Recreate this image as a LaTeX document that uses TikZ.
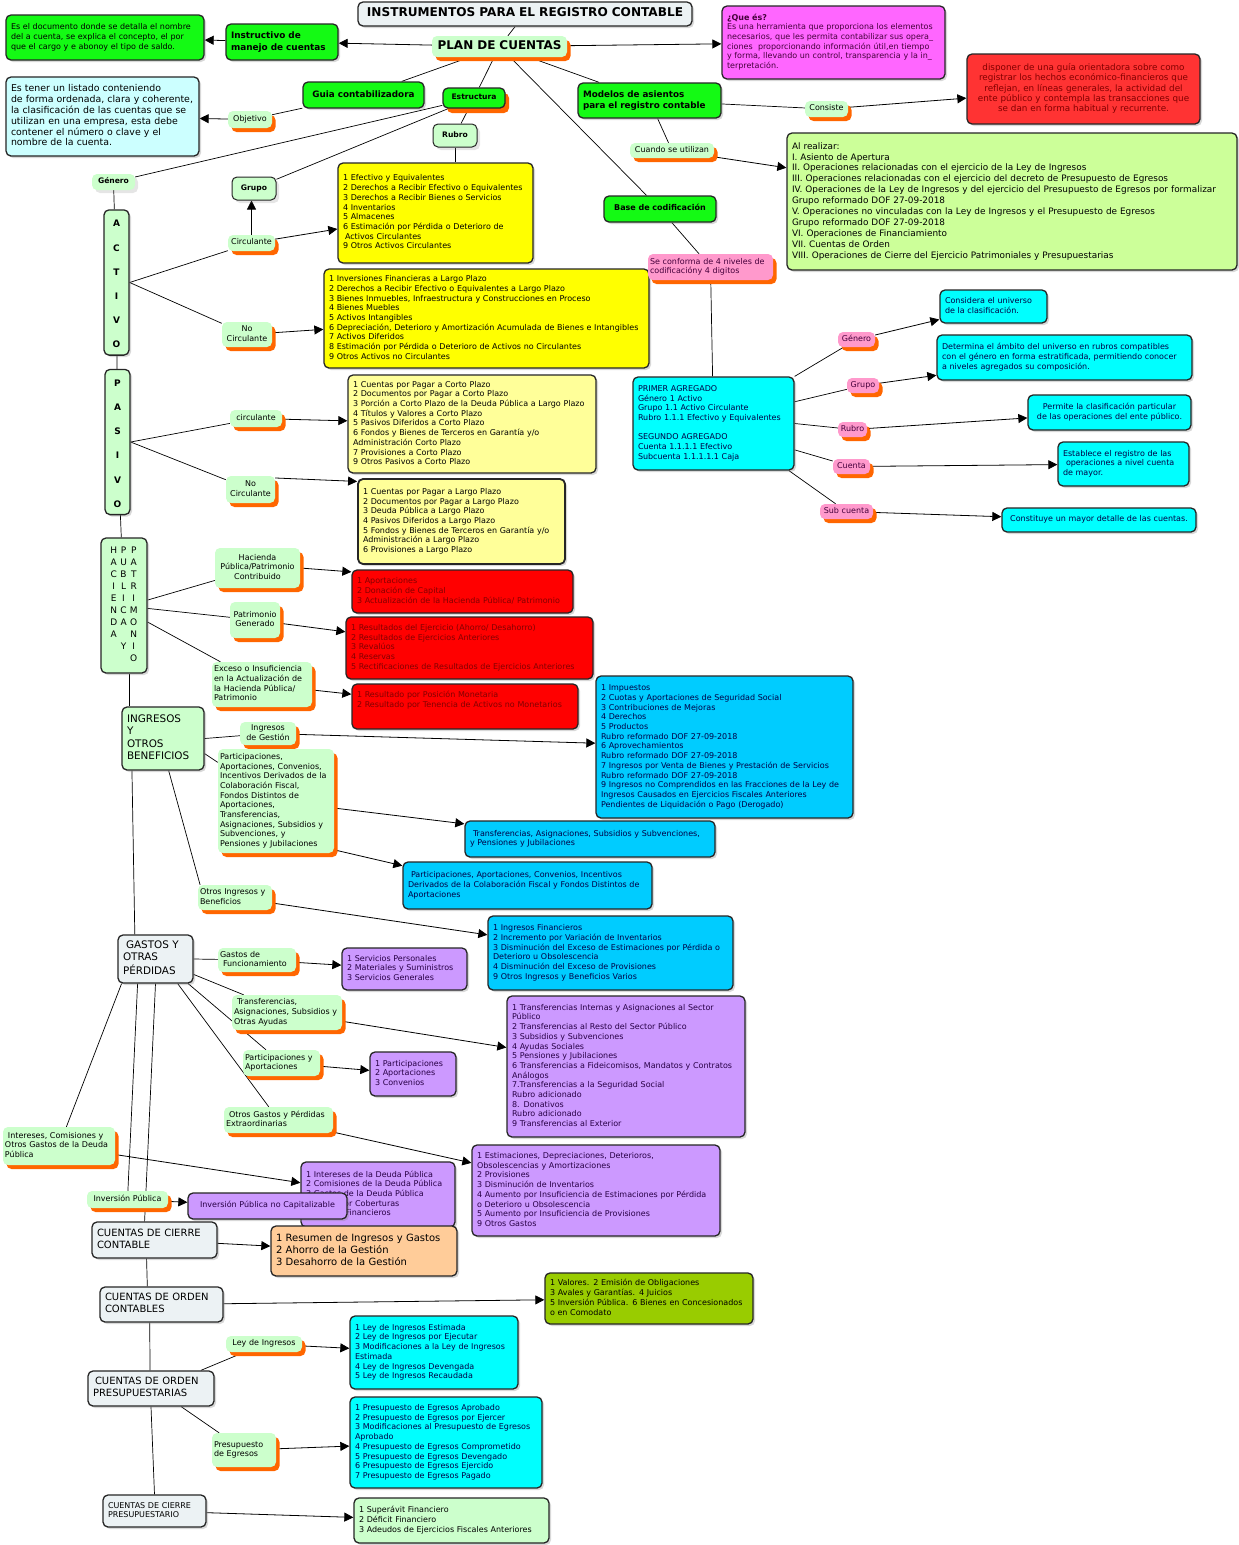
\documentclass[tikz,border=0pt]{standalone}
\usepackage{fontspec}
\setmainfont{DejaVu Sans}
\usetikzlibrary{arrows.meta,shadows}
\pgfdeclarelayer{bottom}
\pgfdeclarelayer{background}
\pgfsetlayers{bottom,background,main}
\definecolor{lgreen}{RGB}{204,255,204}
\definecolor{corange}{RGB}{255,102,0}
\definecolor{cgreen}{RGB}{20,250,20}
\definecolor{cyellow}{RGB}{255,255,0}
\definecolor{lyellow}{RGB}{255,255,153}
\definecolor{cred}{RGB}{255,0,0}
\definecolor{cred2}{RGB}{255,51,51}
\definecolor{cmag}{RGB}{255,102,255}
\definecolor{lcyan}{RGB}{204,255,255}
\definecolor{ccyan}{RGB}{0,255,255}
\definecolor{cblue}{RGB}{0,204,255}
\definecolor{cpurple}{RGB}{204,153,255}
\definecolor{lorange}{RGB}{255,204,153}
\definecolor{colive}{RGB}{153,204,0}
\definecolor{lgreen2}{RGB}{204,255,153}
\definecolor{cpink}{RGB}{255,153,204}
\definecolor{cgray}{RGB}{236,242,244}
\definecolor{tred}{RGB}{130,0,0}
\definecolor{tblue}{RGB}{0,0,70}
\definecolor{tpur}{RGB}{40,0,70}
\definecolor{tmag}{RGB}{70,0,60}
\newcommand\mkbx[9]{%
 \pgfmathsetmacro\bxcx{(#3+#5)/2}%
 \pgfmathsetmacro\bxcy{(#4+#6)/2}%
 \pgfmathsetmacro\bxw{#5-#3}%
 \pgfmathsetmacro\bxh{#6-#4}%
 \pgfmathsetmacro\bxtw{#5-#3-2*#1}%
 \node[inner xsep=#1pt, inner ysep=0pt, minimum width=\bxw pt, minimum height=\bxh pt, text width=\bxtw pt, #7] (#2) at (\bxcx,\bxcy) {\begin{tabular}{@{}#8@{}}#9\end{tabular}};}
\newcommand\mybox{\mkbx{5}}
\newcommand\mylbl{\mkbx{2}}
\begin{document}
\begin{tikzpicture}[x=1pt,y=-1pt,
 box/.style={draw=black!85, line width=1.3pt, rounded corners=5pt, drop shadow={shadow xshift=2pt,shadow yshift=-2pt,opacity=0.3}},
 boxo/.style={draw=black!85, line width=1.3pt, rounded corners=5pt, drop shadow={shadow xshift=4pt,shadow yshift=-5pt,fill=corange,opacity=1}},
 sbox/.style={draw=black!85, fill=lgreen, line width=1pt, rounded corners=5pt, drop shadow={shadow xshift=3pt,shadow yshift=-3pt,opacity=0.2}},
 lbl/.style={fill=lgreen, rounded corners=5pt, drop shadow={shadow xshift=3.5pt,shadow yshift=-4pt,fill=corange,opacity=1}},
 plbl/.style={fill=cpink, rounded corners=5pt, drop shadow={shadow xshift=3.5pt,shadow yshift=-4pt,fill=corange,opacity=1}},
 glbl/.style={fill=lgreen, rounded corners=5pt, drop shadow={shadow xshift=3pt,shadow yshift=-3pt,opacity=0.2}},
 L/.style={align=left}, C/.style={align=center},
 f7/.style={font=\fontsize{8}{9.7}\selectfont},
 fb/.style={font=\fontsize{7.6}{9}\selectfont\bfseries},
 f9/.style={font=\fontsize{10.4}{12.3}\selectfont},
 fc/.style={font=\fontsize{10}{12}\selectfont},
 ln/.style={draw, line width=0.7pt},
 arr/.style={draw, line width=0.8pt, -{Triangle[length=9pt,width=9pt]}}
]
\begin{pgfonlayer}{bottom}
\fill[white] (0,0) rectangle (1239,1545);
\end{pgfonlayer}
\useasboundingbox (0,0) rectangle (1239,1545);

% ---------- top ----------
\mybox{title}{358}{2}{692}{26}{box,fill=cgray,C,font=\fontsize{12.1}{14}\selectfont\bfseries}{c}{INSTRUMENTOS PARA EL REGISTRO CONTABLE}
\mylbl{plan}{432}{36}{567}{57}{lbl,C,font=\fontsize{12}{14}\selectfont\bfseries}{c}{PLAN DE CUENTAS}
\mybox{instr}{226}{24}{338}{60}{box,fill=cgreen,L,font=\fontsize{8.9}{11.5}\selectfont\bfseries}{l}{Instructivo de\\manejo de cuentas}
\mybox{instrd}{6}{15}{204}{60}{box,fill=cgreen,L,f7}{l}{Es el documento donde se detalla el nombre\\del a cuenta, se explica el concepto, el por\\que el cargo y e abonoy el tipo de saldo.}
\mybox{que}{722}{6}{945}{79}{box,fill=cmag,L,f7,text=tmag}{l}{\textbf{¿Que és?}\\Es una herramienta que proporciona los elementos\\necesarios, que les permita contabilizar sus opera\_\\ciones\ \ proporcionando información útil,en tiempo\\y forma, llevando un control, transparencia y la in\_\\terpretación.}
\mybox{guia}{303}{82}{424}{108}{box,fill=cgreen,C,font=\fontsize{8.8}{10}\selectfont\bfseries}{c}{Guia contabilizadora}
\mylbl{obj}{228}{111}{272}{128}{lbl,C,f7}{c}{Objetivo}
\mybox{objd}{6}{77}{199}{156}{box,fill=lcyan,L,font=\fontsize{9.4}{10.9}\selectfont}{l}{Es tener un listado conteniendo\\de forma ordenada, clara y coherente,\\la clasificación de las cuentas que se\\utilizan en una empresa, esta debe\\contener el número o clave y el\\nombre de la cuenta.}
\mybox{estr}{443}{88}{505}{108}{boxo,fill=cgreen,C,fb}{c}{Estructura}
\mybox{rubro}{433}{124}{477}{147}{sbox,C,fb}{c}{Rubro}
\mybox{grupo}{232}{177}{276}{200}{sbox,C,fb}{c}{Grupo}
\mylbl{genero}{92}{174}{135}{190}{glbl,C,fb}{c}{Género}

% ---------- activo ----------
\mybox{yel1}{338}{163}{533}{263}{box,fill=cyellow,L,f7}{l}{1 Efectivo y Equivalentes\\2 Derechos a Recibir Efectivo o Equivalentes\\3 Derechos a Recibir Bienes o Servicios\\4 Inventarios\\5 Almacenes\\6 Estimación por Pérdida o Deterioro de\\\hspace*{2pt}Activos Circulantes\\9 Otros Activos Circulantes}
\mybox{activo}{104}{210}{129}{355}{box,fill=lgreen,C,font=\fontsize{9}{24.2}\selectfont\bfseries}{c}{A\\C\\T\\I\\V\\O}
\mylbl{circ}{228}{235}{275}{251}{lbl,C,f7}{c}{Circulante}
\mylbl{nocirc}{222}{322}{272}{347}{lbl,C,f7}{c}{No\\Circulante}
\mybox{yel2}{324}{269}{649}{368}{box,fill=cyellow,L,f7}{l}{1 Inversiones Financieras a Largo Plazo\\2 Derechos a Recibir Efectivo o Equivalentes a Largo Plazo\\3 Bienes Inmuebles, Infraestructura y Construcciones en Proceso\\4 Bienes Muebles\\5 Activos Intangibles\\6 Depreciación, Deterioro y Amortización Acumulada de Bienes e Intangibles\\7 Activos Diferidos\\8 Estimación por Pérdida o Deterioro de Activos no Circulantes\\9 Otros Activos no Circulantes}

% ---------- pasivo ----------
\mybox{pasivo}{105}{370}{130}{514}{box,fill=lgreen,C,font=\fontsize{9}{24.2}\selectfont\bfseries}{c}{P\\A\\S\\I\\V\\O}
\mylbl{pcirc}{230}{410}{282}{427}{lbl,C,f7}{c}{circulante}
\mylbl{pnocirc}{226}{476}{275}{503}{lbl,C,f7}{c}{No\\Circulante}
\mybox{ly1}{348}{375}{596}{473}{box,fill=lyellow,L,f7}{l}{1 Cuentas por Pagar a Corto Plazo\\2 Documentos por Pagar a Corto Plazo\\3 Porción a Corto Plazo de la Deuda Pública a Largo Plazo\\4 Títulos y Valores a Corto Plazo\\5 Pasivos Diferidos a Corto Plazo\\6 Fondos y Bienes de Terceros en Garantía y/o\\Administración Corto Plazo\\7 Provisiones a Corto Plazo\\9 Otros Pasivos a Corto Plazo}
\mybox{ly2}{358}{479}{565}{564}{box,fill=lyellow,L,f7,line width=1.8pt}{l}{1 Cuentas por Pagar a Largo Plazo\\2 Documentos por Pagar a Largo Plazo\\3 Deuda Pública a Largo Plazo\\4 Pasivos Diferidos a Largo Plazo\\5 Fondos y Bienes de Terceros en Garantía y/o\\Administración a Largo Plazo\\6 Provisiones a Largo Plazo}

% ---------- hacienda ----------
\mybox{hac}{101}{538}{147}{673}{box,fill=lgreen,C,font=\fontsize{9}{12}\selectfont}{c@{\hspace{3pt}}c@{\hspace{3pt}}c}{H&P&P\\A&U&A\\C&B&T\\I&L&R\\E&I&I\\N&C&M\\D&A&O\\A&&N\\&Y&I\\&&O}
\mylbl{hlab1}{215}{548}{300}{588}{lbl,C,f7}{c}{Hacienda\\Pública/Patrimonio\\Contribuido}
\mylbl{hlab2}{230}{602}{280}{638}{lbl,C,f7}{c}{Patrimonio\\Generado}
\mylbl{hlab3}{212}{662}{312}{707}{lbl,L,f7}{l}{Exceso o Insuficiencia\\en la Actualización de\\la Hacienda Pública/\\Patrimonio}
\mybox{red1}{352}{570}{573}{613}{box,fill=cred,L,f7,text=tred}{l}{1 Aportaciones\\2 Donación de Capital\\3 Actualización de la Hacienda Pública/ Patrimonio}
\mybox{red2}{346}{617}{593}{679}{box,fill=cred,L,f7,text=tred}{l}{1 Resultados del Ejercicio (Ahorro/ Desahorro)\\2 Resultados de Ejercicios Anteriores\\3 Revalúos\\4 Reservas\\5 Rectificaciones de Resultados de Ejercicios Anteriores}
\mybox{red3}{352}{684}{578}{729}{box,fill=cred,L,f7,text=tred}{l}{1 Resultado por Posición Monetaria\\2 Resultado por Tenencia de Activos no Monetarios\\[12pt]}

% ---------- ingresos ----------
\mybox{ing}{122}{707}{204}{770}{box,fill=lgreen,L,f9}{l}{INGRESOS\\Y\\OTROS\\BENEFICIOS}
\mylbl{ilab1}{240}{722}{296}{745}{lbl,C,f7}{c}{Ingresos\\de Gestión}
\mylbl{ilab2}{218}{749}{334}{853}{lbl,L,f7}{l}{Participaciones,\\Aportaciones, Convenios,\\Incentivos Derivados de la\\Colaboración Fiscal,\\Fondos Distintos de\\Aportaciones,\\Transferencias,\\Asignaciones, Subsidios y\\Subvenciones, y\\Pensiones y Jubilaciones}
\mylbl{ilab3}{198}{885}{272}{910}{lbl,L,f7}{l}{Otros Ingresos y\\Beneficios}
\mybox{blue1}{596}{676}{853}{818}{box,fill=cblue,L,f7,text=tblue}{l}{1 Impuestos\\2 Cuotas y Aportaciones de Seguridad Social\\3 Contribuciones de Mejoras\\4 Derechos\\5 Productos\\Rubro reformado DOF 27-09-2018\\6 Aprovechamientos\\Rubro reformado DOF 27-09-2018\\7 Ingresos por Venta de Bienes y Prestación de Servicios\\Rubro reformado DOF 27-09-2018\\9 Ingresos no Comprendidos en las Fracciones de la Ley de\\Ingresos Causados en Ejercicios Fiscales Anteriores\\Pendientes de Liquidación o Pago (Derogado)}
\mybox{blue2}{465}{821}{715}{857}{box,fill=cblue,L,f7,text=tblue}{l}{\hspace*{3pt}Transferencias, Asignaciones, Subsidios y Subvenciones,\\y Pensiones y Jubilaciones}
\mybox{blue3}{403}{862}{652}{909}{box,fill=cblue,L,f7,text=tblue}{l}{\hspace*{3pt}Participaciones, Aportaciones, Convenios, Incentivos\\Derivados de la Colaboración Fiscal y Fondos Distintos de\\Aportaciones}
\mybox{blue4}{488}{916}{733}{990}{box,fill=cblue,L,f7,text=tblue}{l}{1 Ingresos Financieros\\2 Incremento por Variación de Inventarios\\3 Disminución del Exceso de Estimaciones por Pérdida o\\Deterioro u Obsolescencia\\4 Disminución del Exceso de Provisiones\\9 Otros Ingresos y Beneficios Varios}

% ---------- gastos ----------
\mybox{gastos}{118}{935}{193}{983}{box,fill=cgray,L,f9}{l}{\hspace*{3pt}GASTOS Y\\OTRAS\\PÉRDIDAS}
\mylbl{glab1}{218}{948}{296}{972}{lbl,L,f7}{l}{Gastos de\\\hspace*{3pt}Funcionamiento}
\mybox{pur1}{342}{948}{467}{990}{box,fill=cpurple,L,f7,text=tpur}{l}{1 Servicios Personales\\2 Materiales y Suministros\\3 Servicios Generales}
\mylbl{glab2}{232}{995}{342}{1030}{lbl,L,f7}{l}{\hspace*{3pt}Transferencias,\\Asignaciones, Subsidios y\\Otras Ayudas}
\mybox{pur2}{507}{996}{745}{1137}{box,fill=cpurple,L,f7,text=tpur}{l}{1 Transferencias Internas y Asignaciones al Sector\\Público\\2 Transferencias al Resto del Sector Público\\3 Subsidios y Subvenciones\\4 Ayudas Sociales\\5 Pensiones y Jubilaciones\\6 Transferencias a Fideicomisos, Mandatos y Contratos\\Análogos\\7.Transferencias a la Seguridad Social\\Rubro adicionado\\8. Donativos\\Rubro adicionado\\9 Transferencias al Exterior}
\mylbl{glab3}{243}{1050}{320}{1076}{lbl,L,f7}{l}{Participaciones y\\Aportaciones}
\mybox{pur3}{370}{1052}{456}{1096}{box,fill=cpurple,L,f7,text=tpur}{l}{1 Participaciones\\2 Aportaciones\\3 Convenios}
\mylbl{glab4}{224}{1107}{333}{1133}{lbl,L,f7}{l}{\hspace*{3pt}Otros Gastos y Pérdidas\\Extraordinarias}
\mybox{pur4}{472}{1145}{720}{1236}{box,fill=cpurple,L,f7,text=tpur}{l}{1 Estimaciones, Depreciaciones, Deterioros,\\Obsolescencias y Amortizaciones\\2 Provisiones\\3 Disminución de Inventarios\\4 Aumento por Insuficiencia de Estimaciones por Pérdida\\o Deterioro u Obsolescencia\\5 Aumento por Insuficiencia de Provisiones\\9 Otros Gastos}
\mylbl{glab5}{3}{1127}{115}{1165}{lbl,L,f7}{l}{\hspace*{3pt}Intereses, Comisiones y\\Otros Gastos de la Deuda\\Pública}
\mybox{pur5}{301}{1162}{455}{1227}{box,fill=cpurple,L,f7,text=tpur}{l}{1 Intereses de la Deuda Pública\\2 Comisiones de la Deuda Pública\\3 Gastos de la Deuda Pública\\4 Costo por Coberturas\\5 Apoyos Financieros}
\mylbl{glab6}{87}{1191}{168}{1208}{lbl,C,f7}{c}{Inversión Pública}
\mybox{pur6}{188}{1193}{347}{1219}{box,fill=cpurple,C,f7,text=tpur}{c}{Inversión Pública no Capitalizable}

% ---------- cuentas ----------
\mybox{cierre}{92}{1222}{217}{1258}{box,fill=cgray,L,fc}{l}{CUENTAS DE CIERRE\\CONTABLE}
\mybox{orng}{271}{1226}{457}{1276}{box,fill=lorange,L,font=\fontsize{10}{12}\selectfont}{l}{1 Resumen de Ingresos y Gastos\\2 Ahorro de la Gestión\\3 Desahorro de la Gestión}
\mybox{ordc}{100}{1287}{223}{1322}{box,fill=cgray,L,fc}{l}{CUENTAS DE ORDEN\\CONTABLES}
\mybox{olive}{545}{1273}{753}{1324}{box,fill=colive,L,f7}{l}{1 Valores. 2 Emisión de Obligaciones\\3 Avales y Garantías. 4 Juicios\\5 Inversión Pública. 6 Bienes en Concesionados\\o en Comodato}
\mybox{ordp}{88}{1371}{214}{1406}{box,fill=cgray,L,fc}{l}{\hspace*{2pt}CUENTAS DE ORDEN\\PRESUPUESTARIAS}
\mylbl{plab1}{226}{1336}{302}{1352}{lbl,C,f7}{c}{Ley de Ingresos}
\mybox{cy1}{350}{1316}{518}{1389}{box,fill=ccyan,L,f7,text=tblue}{l}{1 Ley de Ingresos Estimada\\2 Ley de Ingresos por Ejecutar\\3 Modificaciones a la Ley de Ingresos\\Estimada\\4 Ley de Ingresos Devengada\\5 Ley de Ingresos Recaudada}
\mylbl{plab2}{212}{1433}{276}{1467}{lbl,L,f7}{l}{Presupuesto\\de Egresos}
\mybox{cy2}{350}{1397}{542}{1488}{box,fill=ccyan,L,f7,text=tblue}{l}{1 Presupuesto de Egresos Aprobado\\2 Presupuesto de Egresos por Ejercer\\3 Modificaciones al Presupuesto de Egresos\\Aprobado\\4 Presupuesto de Egresos Comprometido\\5 Presupuesto de Egresos Devengado\\6 Presupuesto de Egresos Ejercido\\7 Presupuesto de Egresos Pagado}
\mybox{cierp}{103}{1495}{206}{1527}{box,fill=cgray,L,f7}{l}{CUENTAS DE CIERRE\\PRESUPUESTARIO}
\mybox{lg}{354}{1498}{549}{1543}{box,fill=lgreen,L,f7}{l}{1 Superávit Financiero\\2 Déficit Financiero\\3 Adeudos de Ejercicios Fiscales Anteriores}

% ---------- right side ----------
\mybox{mod}{578}{83}{721}{118}{box,fill=cgreen,L,font=\fontsize{8.8}{11}\selectfont\bfseries}{l}{Modelos de asientos\\para el registro contable}
\mylbl{cons}{805}{101}{848}{117}{lbl,C,f7}{c}{Consiste}
\mybox{redtr}{967}{54}{1200}{124}{box,fill=cred2,C,font=\fontsize{8.8}{10.4}\selectfont,text=tred}{c}{disponer de una guía orientadora sobre como\\registrar los hechos económico-financieros que\\reflejan, en líneas generales, la actividad del\\ente público y contempla las transacciones que\\se dan en forma habitual y recurrente.}
\mylbl{cuando}{630}{143}{714}{158}{lbl,C,f7}{c}{Cuando se utilizan}
\mybox{alr}{787}{133}{1237}{270}{box,fill=lgreen2,L,font=\fontsize{8.9}{10.9}\selectfont}{l}{Al realizar:\\I. Asiento de Apertura\\II. Operaciones relacionadas con el ejercicio de la Ley de Ingresos\\III. Operaciones relacionadas con el ejercicio del decreto de Presupuesto de Egresos\\IV. Operaciones de la Ley de Ingresos y del ejercicio del Presupuesto de Egresos por formalizar\\Grupo reformado DOF 27-09-2018\\V. Operaciones no vinculadas con la Ley de Ingresos y el Presupuesto de Egresos\\Grupo reformado DOF 27-09-2018\\VI. Operaciones de Financiamiento\\VII. Cuentas de Orden\\VIII. Operaciones de Cierre del Ejercicio Patrimoniales y Presupuestarias}
\mybox{base}{604}{196}{716}{222}{box,fill=cgreen,C,font=\fontsize{8}{9}\selectfont\bfseries}{c}{Base de codificación}
\mylbl{conf}{648}{254}{773}{280}{plbl,L,font=\fontsize{8}{9.7}\selectfont,text=tmag}{l}{Se conforma de 4 niveles de\\codificacióny 4 digitos}
\mybox{prim}{633}{377}{794}{470}{box,fill=ccyan,L,f7,text=tblue}{l}{PRIMER AGREGADO\\Género 1 Activo\\Grupo 1.1 Activo Circulante\\Rubro 1.1.1 Efectivo y Equivalentes\\[9.7pt]SEGUNDO AGREGADO\\Cuenta 1.1.1.1 Efectivo\\Subcuenta 1.1.1.1.1 Caja}
\mylbl{pk1}{838}{332}{875}{347}{plbl,C,f7,text=tmag}{c}{Género}
\mylbl{pk2}{847}{378}{879}{393}{plbl,C,f7,text=tmag}{c}{Grupo}
\mylbl{pk3}{838}{422}{867}{437}{plbl,C,f7,text=tmag}{c}{Rubro}
\mylbl{pk4}{833}{459}{870}{474}{plbl,C,f7,text=tmag}{c}{Cuenta}
\mylbl{pk5}{820}{504}{873}{519}{plbl,C,f7,text=tmag}{c}{Sub cuenta}
\mybox{c1}{940}{290}{1047}{323}{box,fill=ccyan,L,f7,text=tblue}{l}{Considera el universo\\de la clasificación.}
\mybox{c2}{937}{335}{1192}{380}{box,fill=ccyan,L,f7,text=tblue}{l}{Determina el ámbito del universo en rubros compatibles\\con el género en forma estratificada, permitiendo conocer\\a niveles agregados su composición.}
\mybox{c3}{1028}{395}{1191}{430}{box,fill=ccyan,C,f7,text=tblue}{c}{Permite la clasificación particular\\de las operaciones del ente público.}
\mybox{c4}{1058}{442}{1189}{486}{box,fill=ccyan,L,f7,text=tblue}{l}{Establece el registro de las\\\hspace*{3pt}operaciones a nivel cuenta\\de mayor.}
\mybox{c5}{1002}{508}{1196}{532}{box,fill=ccyan,C,f7,text=tblue}{c}{Constituye un mayor detalle de las cuentas.}

% ---------- connectors ----------
\begin{pgfonlayer}{background}
\draw[ln] (title) -- (plan);
\draw[arr] (plan) -- (instr);
\draw[arr] (instr) -- (instrd);
\draw[arr] (plan) -- (que);
\draw[ln] (plan) -- (guia);
\draw[ln] (guia) -- (obj);
\draw[arr] (obj) -- (objd);
\draw[ln] (plan) -- (estr);
\draw[ln] (estr) -- (genero);
\draw[ln] (estr) -- (grupo);
\draw[ln] (estr) -- (rubro);
\draw[ln] (rubro.south) -- (rubro.south |- yel1.north);
\draw[ln] (genero) -- (activo);
\draw[ln] (activo.east) -- (circ);
\draw[ln] (activo.east) -- (nocirc);
\draw[arr] (circ.north) -- (circ.north |- grupo.south);
\draw[arr] (circ) -- (yel1);
\draw[arr] (nocirc) -- (yel2);
\draw[ln] (activo) -- (pasivo);
\draw[ln] (pasivo.east) -- (pcirc);
\draw[ln] (pasivo.east) -- (pnocirc);
\draw[arr] (pcirc) -- (ly1);
\draw[arr] (pnocirc.25) -- (ly2.159);
\draw[ln] (pasivo) -- (hac);
\draw[ln] (hac.13) -- (hlab1);
\draw[ln] (hac.-7) -- (hlab2);
\draw[ln] (hac.-35) -- (hlab3);
\draw[arr] (hlab1.east) -- (red1.170);
\draw[arr] (hlab2) -- (red2);
\draw[arr] (hlab3) -- (red3);
\draw[ln] ([xshift=5pt]hac.south) -- ([xshift=5pt]hac.south |- ing.north);
\draw[ln] (ing.east) -- (ilab1);
\draw[ln] (ing.-20) -- (ilab2);
\draw[ln] (ing.-80) -- (ilab3.160);
\draw[arr] (ilab1) -- (blue1);
\draw[arr] (ilab2) -- (blue2);
\draw[arr] (ilab2.-40) -- (blue3.171);
\draw[arr] (ilab3) -- (blue4);
\draw[ln] (ing.-134) -- (gastos.130);
\draw[ln] (gastos.east) -- (glab1);
\draw[ln] (gastos.-22) -- (glab2);
\draw[ln] (gastos.-37) -- (glab3);
\draw[ln] (gastos.-48) -- (glab4);
\draw[ln] (gastos.-144) -- (glab5);
\draw[ln] (gastos.-126) -- (glab6);
\draw[ln] (gastos.south) -- (cierre.118);
\draw[arr] (glab1) -- (pur1);
\draw[arr] (glab2) -- (pur2);
\draw[arr] (glab3) -- (pur3);
\draw[arr] (glab4) -- (pur4);
\draw[arr] (glab5) -- (pur5);
\draw[arr] (glab6) -- (pur6);
\draw[arr] (cierre) -- (orng);
\draw[ln] (cierre.-113) -- (ordc.128);
\draw[arr] (ordc) -- (olive);
\draw[ln] (ordc.-123) -- (ordp.93);
\draw[ln] (ordp.20) -- (plab1);
\draw[ln] (ordp.-31) -- (plab2);
\draw[arr] (plab1) -- (cy1);
\draw[arr] (plab2) -- (cy2);
\draw[ln] (ordp.south) -- (cierp.north);
\draw[arr] (cierp) -- (lg);
\draw[ln] (plan) -- (mod);
\draw[ln] (mod) -- (cons);
\draw[arr] (cons) -- (redtr);
\draw[ln] (mod) -- (cuando);
\draw[arr] (cuando) -- (alr);
\draw[ln] (plan) -- (base);
\draw[ln] (base) -- (conf);
\draw[ln] (conf) -- (prim);
\draw[ln] (prim.north east) -- (pk1);
\draw[ln] (prim.15) -- (pk2);
\draw[ln] (prim.east) -- (pk3);
\draw[ln] (prim.-18) -- (pk4);
\draw[ln] (prim.-32) -- (pk5);
\draw[arr] (pk1) -- (c1);
\draw[arr] (pk2) -- (c2);
\draw[arr] (pk3) -- (c3);
\draw[arr] (pk4) -- (c4);
\draw[arr] (pk5) -- (c5);
\end{pgfonlayer}
\end{tikzpicture}
\end{document}
